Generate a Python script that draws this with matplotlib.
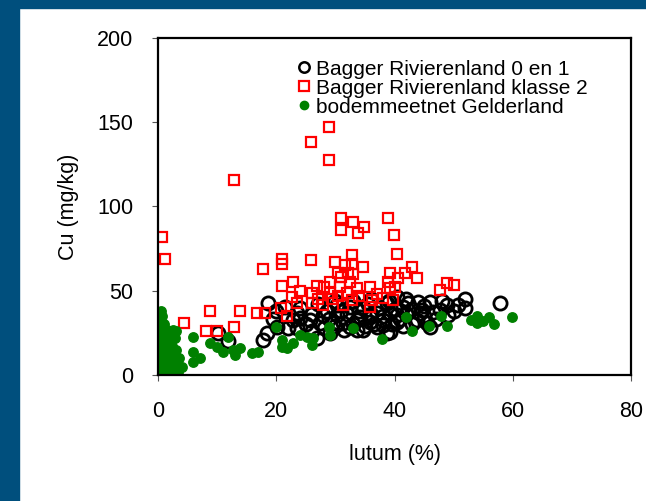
import matplotlib
matplotlib.use("Agg")
import matplotlib.pyplot as plt
from matplotlib.patches import Rectangle

plt.rcParams['font.family'] = ['Liberation Sans', 'DejaVu Sans']

# data: lutum (%) and Cu (mg/kg)
klasse01_x = [10.2, 11.8, 17.8, 18.4, 18.6, 19.5, 20.1, 21.5, 22.8, 23.5, 23.5, 25.7, 26.9, 27.4,
              27.9, 29.1, 29.6, 30.3, 31.3, 32.5, 33.7, 34.7, 35.9, 37.0, 38.0, 39.3, 40.4, 40.4,
              32.5, 30.3, 34.7, 33.7, 34.2, 35.9, 37.0, 38.0, 39.3, 38.7, 40.4, 41.5, 42.3, 44.0,
              44.7, 46.0, 46.5, 45.5, 46.0, 47.7, 48.9, 49.1, 50.8, 51.9, 57.9, 38.7, 43.8, 44.3,
              25.0, 26.0, 28.0, 28.5, 29.0, 30.0, 31.0, 31.5, 32.0, 33.0, 33.0, 34.0, 35.0, 35.5,
              36.0, 36.5, 37.5, 38.0, 39.0, 39.5, 40.0, 41.0, 41.5, 42.0, 43.0, 43.0, 45.0, 45.0,
              47.0, 48.0, 50.0, 52.0, 24.0, 22.0, 27.0, 30.0, 20.0, 36.0, 42.0, 26.0, 24.0]
klasse01_y = [25.0, 20.0, 21.0, 25.0, 43.0, 33.0, 28.5, 40.5, 32.6, 27.9, 37.0, 32.6, 22.0, 31.0,
              35.6, 25.0, 31.0, 35.6, 31.0, 28.5, 32.6, 26.7, 34.5, 28.5, 32.6, 37.0, 31.5, 46.0,
              40.5, 41.5, 40.5, 26.7, 34.5, 31.5, 37.0, 29.7, 25.5, 42.7, 35.6, 40.5, 42.7, 43.3,
              38.6, 43.3, 37.4, 30.8, 28.5, 38.6, 41.5, 35.6, 41.5, 45.0, 42.7, 25.0, 32.6, 36.7,
              30.0, 36.0, 28.0, 38.0, 33.0, 29.0, 38.0, 27.0, 36.0, 30.0, 44.0, 38.0, 29.0, 42.0,
              36.0, 30.0, 40.0, 35.0, 44.0, 30.0, 39.0, 33.0, 29.0, 36.0, 39.0, 30.0, 35.0, 41.0,
              33.0, 44.0, 38.0, 40.0, 40.0, 28.0, 42.0, 44.0, 38.0, 45.0, 45.0, 26.0, 34.0]

klasse2_x = [0.7, 1.2, 12.9, 25.9, 28.9, 28.9, 31.0, 31.0, 33.0, 33.9, 34.9, 38.9, 39.9,
             8.8, 4.4, 8.1, 10.0, 12.9, 13.9, 16.8, 18.1, 17.8, 21.0, 21.0, 21.0, 22.9, 20.8,
             21.8, 22.7, 23.5, 25.9, 26.9, 26.0, 26.0, 27.9, 29.1, 29.1, 30.0, 30.8, 31.3, 32.8,
             32.8, 32.1, 32.5, 34.7, 32.0, 33.7, 32.8, 35.9, 36.2, 39.3, 38.9, 40.1, 40.4, 43.0,
             41.8, 40.6, 43.8, 39.3, 47.7, 48.9, 50.0, 38.0, 39.8, 35.9, 33.0, 29.5, 30.5, 34.0,
             37.0, 24.0, 28.0, 31.0, 27.0, 30.5, 31.6]
klasse2_y = [82.0, 69.0, 116.0, 138.0, 147.0, 127.6, 93.0, 86.0, 91.0, 84.0, 88.0, 93.0, 83.0,
             38.0, 31.0, 26.0, 26.0, 28.5, 38.0, 37.0, 37.0, 63.0, 69.0, 66.0, 53.0, 55.0, 40.0,
             35.0, 46.0, 43.0, 68.0, 53.0, 48.6, 43.0, 41.5, 55.0, 48.6, 67.0, 52.0, 41.5, 71.0,
             66.0, 60.5, 55.0, 64.0, 48.6, 51.6, 44.5, 52.0, 44.5, 60.5, 55.0, 52.0, 72.0, 64.0,
             60.5, 57.6, 57.6, 51.6, 50.4, 54.6, 53.4, 45.6, 44.5, 40.5, 60.0, 45.0, 47.0, 47.0,
             48.0, 50.0, 52.0, 58.0, 45.0, 60.5, 65.0]

gld_x = [0.5, 0.7, 0.4, 1.0, 0.6, 1.5, 2.5, 3.0, 0.8, 2.0, 0.5, 1.2, 2.8, 0.3, 1.8, 0.9, 2.3,
         0.5, 1.4, 3.0, 0.7, 2.0, 0.4, 1.1, 2.6, 0.8, 1.7, 0.5, 3.2, 1.3, 0.6, 2.2, 1.0, 0.4,
         1.8, 0.7, 2.7, 0.5, 1.2, 0.3, 2.0, 3.5, 4.0, 3.3,
         5.9, 5.9, 7.1, 5.9, 8.8, 10.0, 11.0, 11.8, 12.7, 13.0, 13.9, 15.9, 16.9, 20.0, 21.0,
         21.0, 21.8, 22.9, 24.0, 25.2, 26.2, 26.0, 28.9, 29.1, 33.0, 37.9, 42.0, 43.0, 45.9,
         47.9, 48.9, 53.0, 54.0, 54.0, 55.0, 56.0, 56.9, 59.9]
gld_y = [38.0, 35.0, 32.0, 30.0, 28.0, 27.0, 27.0, 26.0, 25.0, 24.0, 22.0, 21.0, 22.0, 20.0,
         19.0, 18.0, 17.0, 16.0, 15.0, 15.0, 14.0, 13.0, 12.0, 11.0, 11.0, 10.0, 9.0, 8.0, 8.0,
         7.0, 6.0, 6.0, 5.0, 4.0, 4.0, 3.0, 3.0, 2.0, 1.5, 1.0, 1.0, 10.0, 5.0, 2.0,
         22.5, 13.6, 10.0, 7.7, 19.0, 16.6, 13.6, 22.5, 14.8, 11.9, 16.0, 13.0, 13.6, 28.5, 20.8,
         16.6, 16.0, 19.0, 23.7, 22.5, 22.0, 17.8, 28.5, 23.7, 27.9, 21.4, 34.5, 26.0, 29.0,
         35.0, 29.0, 32.6, 35.0, 31.0, 32.0, 34.4, 30.4, 34.4]

labels = ['Bagger Rivierenland 0 en 1', 'Bagger Rivierenland klasse 2', 'bodemmeetnet Gelderland']

fig = plt.figure(figsize=(6.46, 5.01), dpi=100)
# donkerblauwe rand links en boven
fig.patches.append(Rectangle((0, 0), 19 / 646, 1, transform=fig.transFigure, color='#004f7d', zorder=0))
fig.patches.append(Rectangle((0, 1 - 7.5 / 501), 1, 7.5 / 501, transform=fig.transFigure, color='#004f7d', zorder=0))

ax = fig.add_axes([0.2446, 0.2515, 0.7322, 0.6727])
ax.plot(klasse01_x, klasse01_y, linestyle='none', marker='o', ms=9.5, mew=2.0, mfc='none', mec='black', label=labels[0])
ax.plot(klasse2_x, klasse2_y, linestyle='none', marker='s', ms=7.5, mew=1.6, mfc='none', mec='#ff0000', label=labels[1])
ax.plot(gld_x, gld_y, linestyle='none', marker='o', ms=6.8, mfc='#008000', mec='#008000', label=labels[2])

ax.set_xlim(0, 80)
ax.set_ylim(0, 200)
ax.set_xticks([0, 20, 40, 60, 80])
ax.set_yticks([0, 50, 100, 150, 200])
for s in ax.spines.values():
    s.set_linewidth(1.6)
ax.tick_params(direction='out', length=4, width=0.8, color='#555555', labelsize=15.5)
ax.tick_params(axis='x', pad=15)
ax.tick_params(axis='y', pad=14)

ax.set_xlabel('lutum (%)', fontsize=15.5)
ax.xaxis.set_label_coords(0.5, -0.205)
ax.set_ylabel('Cu (mg/kg)', fontsize=15.5, va='center')
ax.yaxis.set_label_coords(-0.19, 0.5)

leg = ax.legend(loc='upper left', bbox_to_anchor=(0.277, 0.96), frameon=False, fontsize=15,
                handlelength=0.6, handletextpad=0.3, labelspacing=0.0, borderaxespad=0)
leg.legend_handles[0].set_markersize(7.5)
leg.legend_handles[0].set_markeredgewidth(1.8)
leg.legend_handles[1].set_markersize(6.5)
leg.legend_handles[2].set_markersize(6)

fig.savefig('out.png', dpi=100)
